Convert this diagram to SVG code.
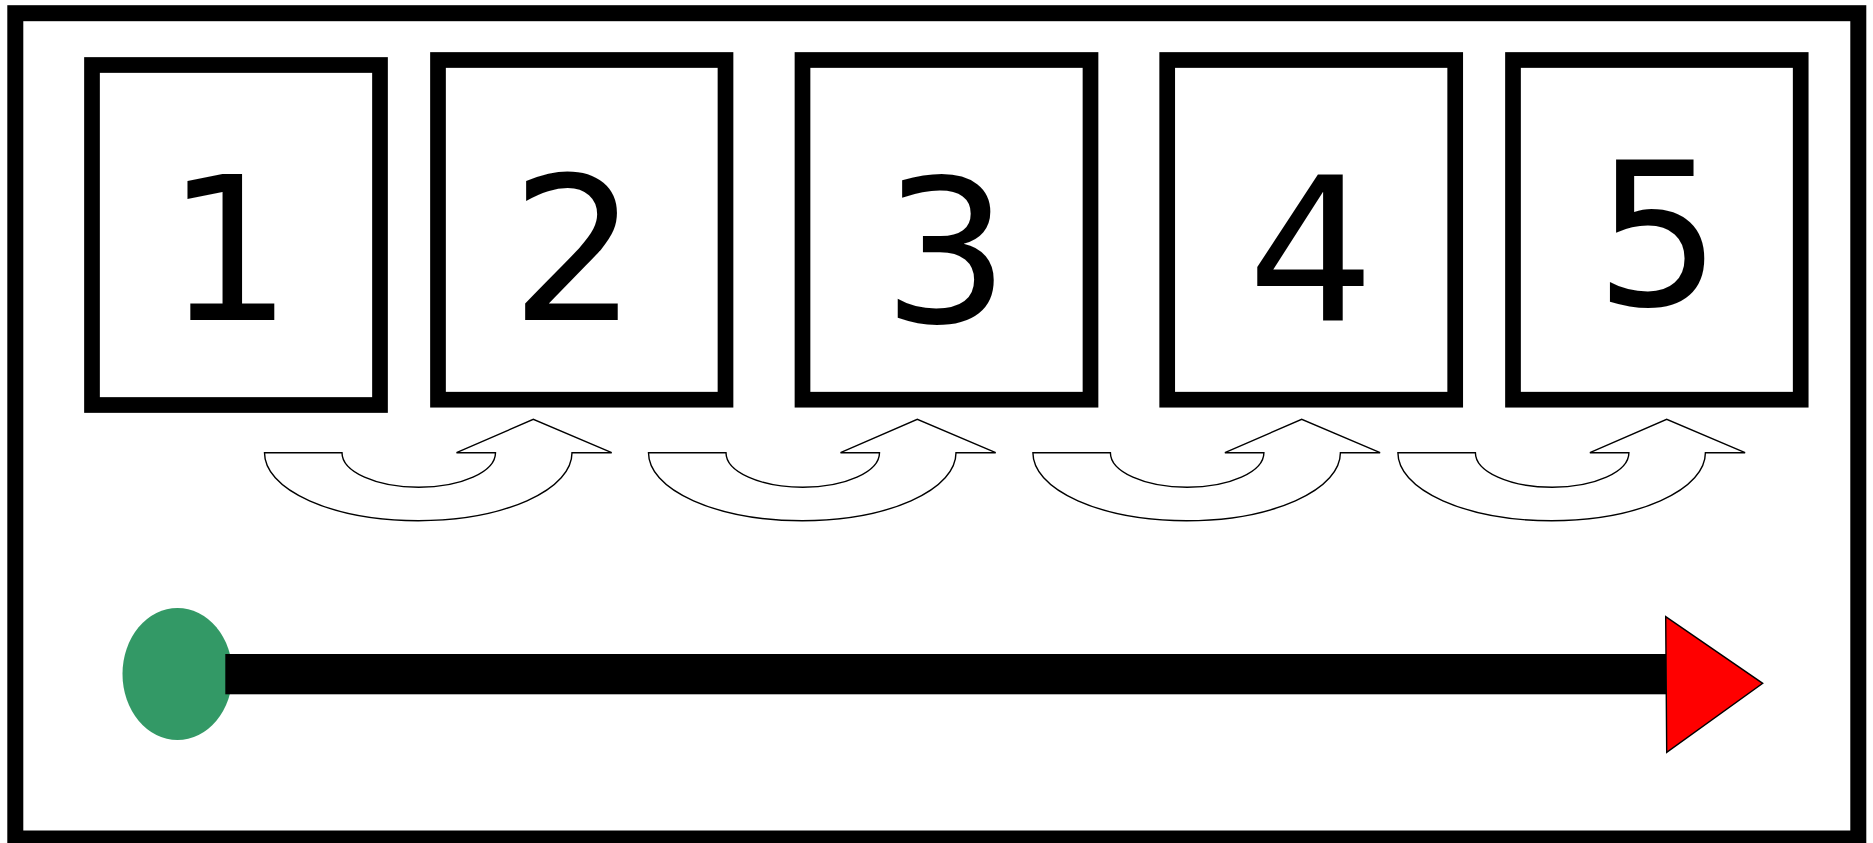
<svg xmlns="http://www.w3.org/2000/svg" width="1873" height="843" viewBox="0 0 1873 843">
  <style>
    .frame { fill: #ffffff; stroke: #000000; stroke-width: 16; }
    .box { fill: #ffffff; stroke: #000000; stroke-width: 15.7; }
    .digit { font-family: "Comic Sans MS", "DejaVu Sans", sans-serif; font-size: 200px; fill: #000000; text-anchor: middle; }
    .uturn { fill: #ffffff; stroke: #000000; stroke-width: 1.4; stroke-linejoin: miter; }
  </style>
  <defs>
    <path id="uturnShape" d="M264.5,452.7 H342 A76.75,34.6 0 0 0 495.5,452.7 H456.5 L533.3,419.3 L611.7,452.7 H572 A153.75,68 0 0 1 264.5,452.7 Z"/>
  </defs>
  <rect id="frame" class="frame" x="15.3" y="13.2" width="1843" height="825.3"/>

  <g id="box1">
    <rect class="box" x="92" y="65" width="288" height="340"/>
    <text class="digit" x="229" y="320">1</text>
  </g>
  <g id="box2">
    <rect class="box" x="438" y="60" width="287.5" height="339.7"/>
    <text class="digit" x="574" y="320">2</text>
  </g>
  <g id="box3">
    <rect class="box" x="802.5" y="60" width="288" height="339.7"/>
    <text class="digit" x="946" y="322">3</text>
  </g>
  <g id="box4">
    <rect class="box" x="1167.2" y="60" width="288" height="339.7"/>
    <text class="digit" x="1311" y="320">4</text>
  </g>
  <g id="box5">
    <rect class="box" x="1513" y="60" width="287.7" height="339.7"/>
    <text class="digit" x="1658" y="305">5</text>
  </g>

  <g id="connectors">
    <use href="#uturnShape" class="uturn"/>
    <use href="#uturnShape" class="uturn" transform="translate(384,0)"/>
    <use href="#uturnShape" class="uturn" transform="translate(768.4,0)"/>
    <use href="#uturnShape" class="uturn" transform="translate(1133.4,0)"/>
  </g>

  <g id="timeline">
    <ellipse id="start" cx="177.5" cy="674" rx="55" ry="66" fill="#339966"/>
    <rect id="bar" x="225.3" y="654" width="1441" height="40.3" fill="#000000"/>
    <polygon id="end" points="1665.7,616.7 1762.7,683.3 1666.7,752.3" fill="#ff0000" stroke="#000000" stroke-width="1.4"/>
  </g>
</svg>
